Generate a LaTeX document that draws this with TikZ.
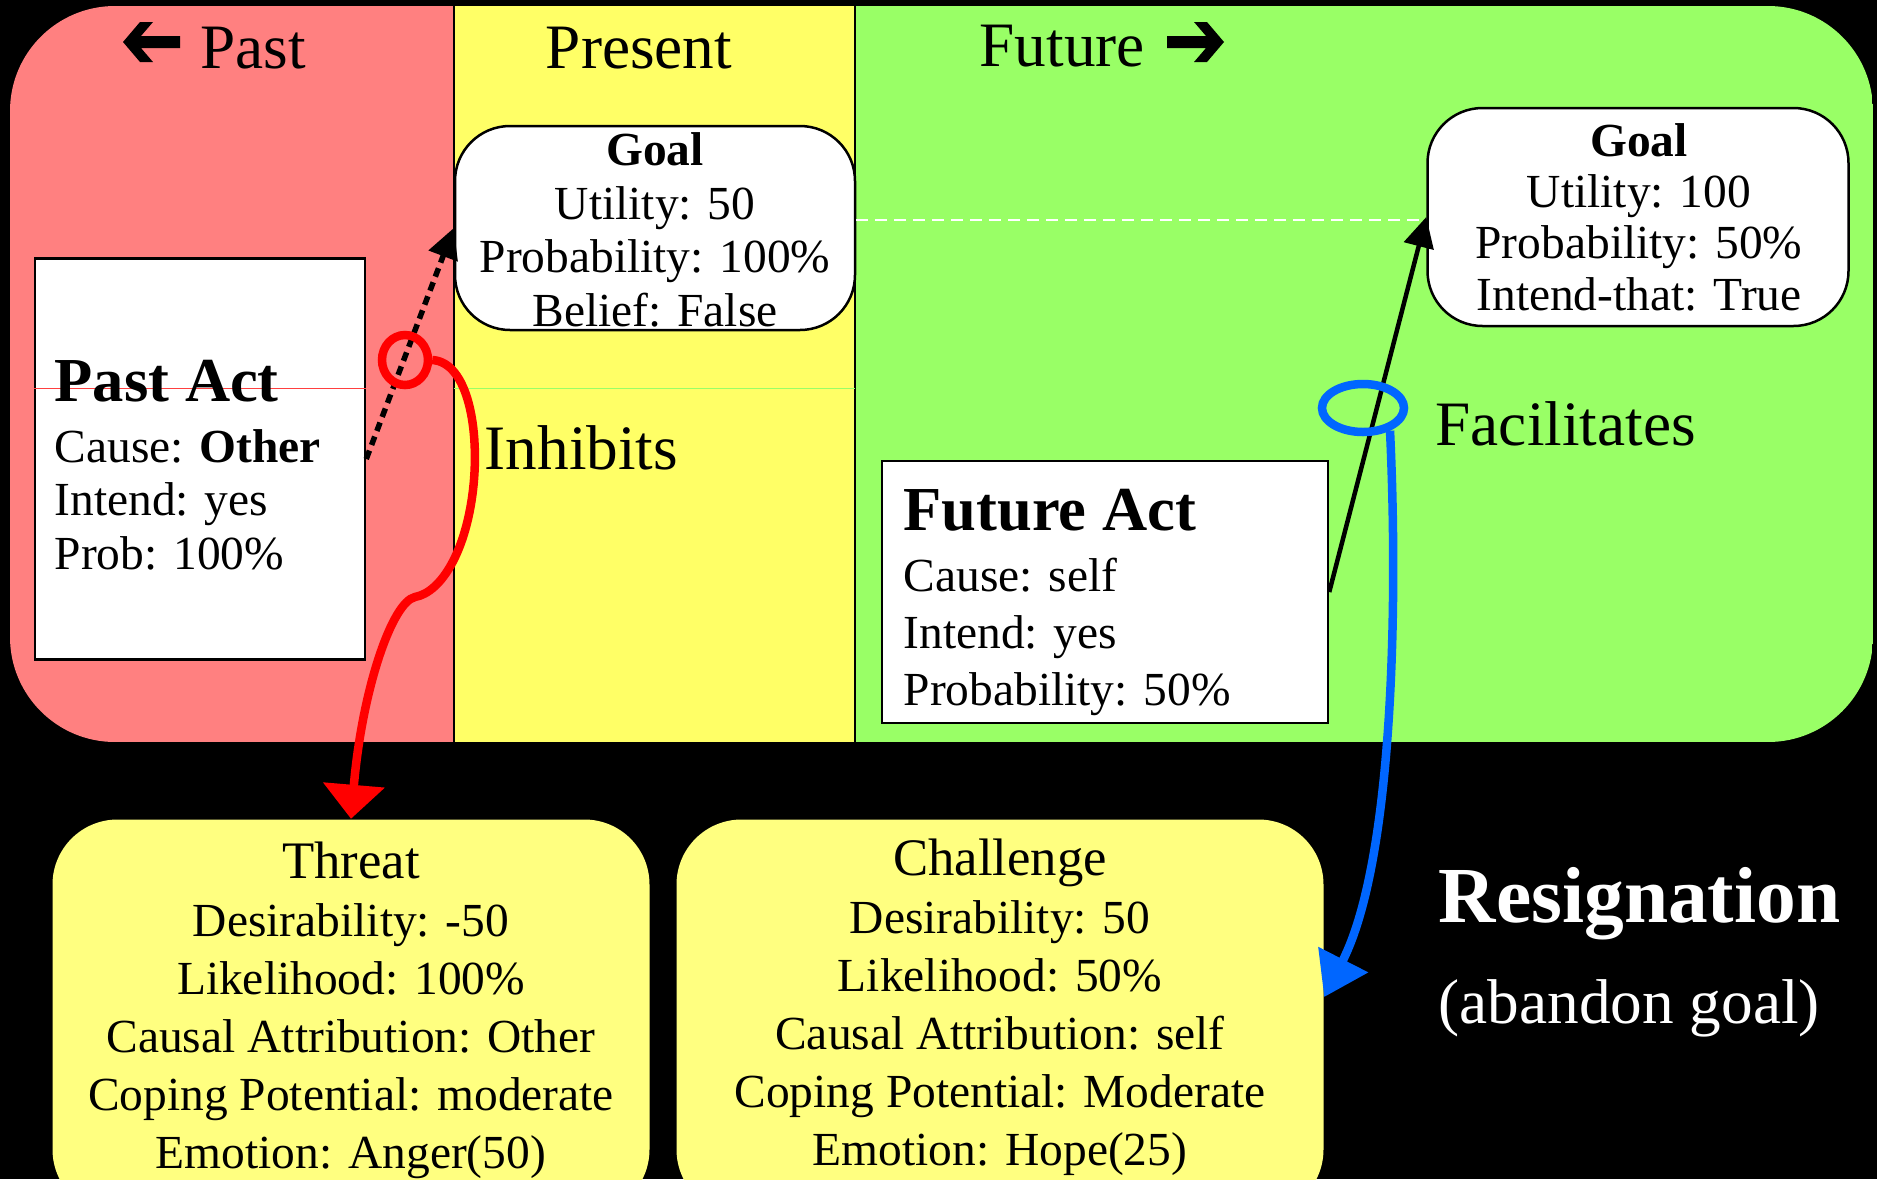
\documentclass[tikz,border=0pt]{standalone}
\usepackage{fontspec}
\setmainfont{Liberation Serif}
\usepackage{tikz}
\usetikzlibrary{shapes.geometric, arrows.meta, positioning, calc}
\usepackage{xcolor}

\definecolor{pastred}{RGB}{255,128,128}
\definecolor{nowyellow}{RGB}{255,255,102}
\definecolor{futgreen}{RGB}{153,255,102}
\definecolor{appryellow}{RGB}{255,255,128}
\definecolor{loopred}{RGB}{255,0,0}
\definecolor{loopblue}{RGB}{0,102,255}

\begin{document}
\begin{tikzpicture}[x=0.1mm, y=-0.1mm,
		headtxt/.style={font=\fontsize{18pt}{20pt}\selectfont, inner sep=0pt},
		titletxt/.style={font=\bfseries\fontsize{17.8pt}{20pt}\selectfont, inner sep=0pt, anchor=base west},
		bodytxt/.style={font=\fontsize{13.5pt}{15.2pt}\selectfont, inner sep=0pt},
		actbox/.style={draw=black, fill=white, line width=0.25mm, inner sep=0pt},
		goalbox/.style={draw=black, fill=white, line width=0.25mm, rounded corners=5.5mm, inner sep=0pt},
		apprbox/.style={fill=appryellow, rounded corners=6.5mm, inner sep=0pt, minimum width=59.7mm, minimum height=39.5mm},
		apprtxt/.style={font=\fontsize{13.5pt}{16.5pt}\selectfont, inner sep=0pt, align=center, anchor=base},
		loop/.style={ellipse, draw, line width=0.85mm, inner sep=0pt},
		link/.style={line width=0.45mm, -{Triangle[length=3mm, width=3mm]}}
	]
	% Black page and the frame of the picture
	\useasboundingbox (0,0) rectangle (1877,1179);
	\fill[black] (0,0) rectangle (1877,1179);
	
	% Draw the three time bands (past, present, future)
	\begin{scope}
		\clip[rounded corners=10.5mm] (10,6) rectangle (1873,742);
		\fill[pastred] (10,6) rectangle (454,742);
		\fill[nowyellow] (454,6) rectangle (855,742);
		\fill[futgreen] (855,6) rectangle (1873,742);
		\draw[line width=0.2mm] (454,6) -- (454,742);
		\draw[line width=0.2mm] (855,6) -- (855,742);
	\end{scope}
	
	% Band headings with their arrows
	\fill (123,42) -- (140,22) -- (153,22) -- (141,36) -- (180,36) -- (180,48) -- (141,48) -- (153,62) -- (140,62) -- cycle;
	\fill (1224,42) -- (1207,22) -- (1194,22) -- (1206,36) -- (1167,36) -- (1167,48) -- (1206,48) -- (1194,62) -- (1207,62) -- cycle;
	\node[headtxt, anchor=base west] (past) at (200,68) {Past};
	\node[headtxt, anchor=base] (present) at (639,68) {Present};
	\node[headtxt, anchor=base west] (future) at (979,66) {Future};
	
	% Boxes for the acts and the goals
	\node[actbox, minimum width=33mm, minimum height=40.1mm] (pastact) at (200,459) {};
	\node[actbox, minimum width=44.6mm, minimum height=26.2mm] (futact) at (1105,592) {};
	\node[goalbox, minimum width=40mm, minimum height=20.4mm] (goalnow) at (655,228) {};
	\node[goalbox, minimum width=42.1mm, minimum height=21.8mm] (goalfut) at (1638,217) {};
	
	% Thin guide lines across the bands
	\draw[red!75, line width=0.1mm] (pastact.west |- 0,388) -- (pastact.east |- 0,388);
	\draw[futgreen, line width=0.1mm] (454,388) -- (855,388);
	
	% Texts inside the boxes (multi-line nodes sit on their last baseline)
	\node[titletxt] (pastacttitle) at (54,401) {Past Act};
	\node[bodytxt, align=left, anchor=base west, font=\fontsize{13.5pt}{15.1pt}\selectfont] (pastacttxt) at (54,569)
		{Cause: \textbf{Other}\\Intend: yes\\Prob: 100\%};
	\node[titletxt] (futacttitle) at (903,530) {Future Act};
	\node[bodytxt, align=left, anchor=base west, font=\fontsize{13.5pt}{16.2pt}\selectfont] (futacttxt) at (903,705)
		{Cause: self\\Intend: yes\\Probability: 50\%};
	\node[bodytxt, align=center, anchor=base] (goalnowtxt) at (655,326)
		{\textbf{Goal}\\Utility: 50\\Probability: 100\%\\Belief: False};
	\node[bodytxt, align=center, anchor=base, font=\fontsize{13.5pt}{14.6pt}\selectfont] (goalfuttxt) at (1639,310)
		{\textbf{Goal}\\Utility: 100\\Probability: 50\%\\Intend-that: True};
	
	% Relation labels
	\node[headtxt, anchor=base west] (inhibits) at (484,469) {Inhibits};
	\node[headtxt, anchor=base west] (facilitates) at (1435,445) {Facilitates};
	
	% Links from the acts to the goals
	\draw[white, line width=0.25mm, dash pattern=on 1.15mm off 0.75mm] (goalnow.east |- 0,220) -- (goalfut.west |- 0,220);
	\draw[link, line width=0.55mm, dash pattern=on 0.9mm off 0.6mm] (pastact.east) -- (goalnow.west);
	\draw[link] (futact.east) -- (goalfut.west);
	
	% Appraisal boxes
	\node[apprbox] (threat) at (351,1017) {};
	\node[apprbox, minimum width=64.7mm] (challenge) at (1000,1017) {};
	\node[apprtxt] (threattxt) at (351,1168)
		{{\fontsize{15pt}{16.5pt}\selectfont Threat}\\Desirability: -50\\Likelihood: 100\%\\Causal Attribution: Other\\Coping Potential: moderate\\Emotion: Anger(50)};
	\node[apprtxt] (challengetxt) at (1000,1165)
		{{\fontsize{15pt}{16.5pt}\selectfont Challenge}\\Desirability: 50\\Likelihood: 50\%\\Causal Attribution: self\\Coping Potential: Moderate\\Emotion: Hope(25)};
	
	% Loops picking up the links, and where they lead
	\node[loop, draw=loopred, minimum width=4.6mm, minimum height=5mm] (inhloop) at (405,360) {};
	\node[loop, draw=loopblue, minimum width=8.2mm, minimum height=4.8mm] (facloop) at (1363,408) {};
	\draw[loopred, line width=0.85mm, -{Triangle[length=3.4mm, width=6mm]}] (inhloop.east)
		.. controls (468,362) and (480,430) .. (473,490)
		.. controls (466,550) and (442,592) .. (415,597)
		.. controls (392,602) and (362,690) .. (threat.north);
	\draw[loopblue, line width=0.85mm, -{Triangle[length=4.2mm, width=5.4mm]}] (facloop.-40)
		.. controls (1398,600) and (1394,860) .. ([yshift=2mm]challenge.east);
	
	% Outcome
	\node[text=white, font=\bfseries\fontsize{22.6pt}{24pt}\selectfont, inner sep=0pt, anchor=base west] (resig) at (1438,922) {Resignation};
	\node[text=white, headtxt, anchor=base west] (abandon) at (1438,1023) {(abandon goal)};
	
\end{tikzpicture}
\end{document}
